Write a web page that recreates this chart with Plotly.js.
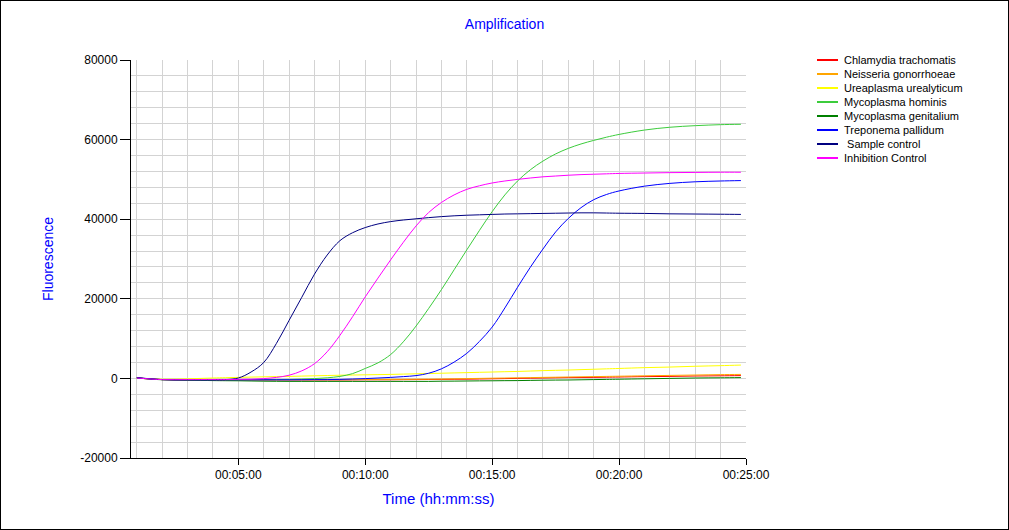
<!DOCTYPE html>
<html>
<head>
<meta charset="utf-8">
<script src="https://cdn.plot.ly/plotly-3.0.1.min.js"></script>
<style>
html, body { margin: 0; padding: 0; background: #fff; }
#chart { width: 1007px; height: 528px; border: 1px solid #000; }
</style>
</head>
<body>
<div id="chart"></div>
<script>
// Time in minutes
const timeMin = [1,2,3,4,4.5,5,5.5,6,6.5,7,7.5,8,8.5,9,9.5,10,10.5,11,11.5,12,12.5,13,13.5,14,14.5,15,15.5,16,16.5,17,17.5,18,18.5,19,19.5,20,21,22,23,24,24.8];

const seriesNames = [
  "Chlamydia trachomatis",
  "Neisseria gonorrhoeae",
  "Ureaplasma urealyticum",
  "Mycoplasma hominis",
  "Mycoplasma genitalium",
  "Treponema pallidum",
  "\u00a0Sample control",
  "Inhibition Control"
];
const seriesColors = ["#ff0000","#ffa500","#ffff00","#3ccc3c","#008000","#0000ff","#000080","#ff00ff"];

const chlamydia   = [100,-300,-400,-400,-400,-400,-400,-400,-400,-400,-400,-400,-400,-400,-380,-350,-350,-350,-320,-300,-280,-250,-220,-200,-150,-100,-50,0,50,100,150,200,220,250,300,350,450,500,600,650,700];
const neisseria   = [100,-300,-350,-350,-330,-300,-300,-300,-300,-300,-300,-300,-300,-300,-300,-250,-250,-250,-220,-200,-180,-150,-100,-50,0,50,100,150,200,250,300,350,400,450,500,550,650,750,850,950,1000];
const ureaplasma  = [100,-200,-100,100,180,250,330,400,450,500,580,650,720,800,850,900,950,1000,1080,1150,1230,1300,1380,1450,1530,1600,1680,1750,1850,1950,2030,2100,2200,2300,2400,2500,2700,2850,3050,3200,3350];
const mhominis    = [100,-300,-350,-350,-350,-350,-350,-300,-300,-250,-150,-50,150,500,1200,2500,3900,6000,9200,13150,17600,22300,27300,32300,37200,41900,46100,49600,52400,54600,56400,57800,58900,59800,60600,61300,62400,63100,63500,63750,63850];
const mgenitalium = [100,-350,-450,-550,-580,-600,-650,-700,-730,-750,-750,-750,-750,-750,-750,-750,-750,-750,-750,-750,-750,-700,-680,-650,-620,-600,-570,-550,-500,-450,-420,-400,-350,-300,-250,-200,-100,0,100,150,200];
const treponema   = [150,-300,-350,-350,-350,-350,-350,-350,-350,-350,-330,-300,-300,-250,-150,-50,100,250,450,700,1300,2400,4100,6300,9300,12900,17700,22900,27900,32500,36800,40200,42900,44900,46200,47100,48300,49000,49400,49600,49700];
const sampleCtrl  = [200,-300,-350,-350,-300,100,1600,4000,8800,14600,20400,26200,31000,34600,36600,37900,38800,39400,39800,40100,40400,40650,40850,41000,41100,41200,41300,41350,41400,41450,41500,41550,41600,41600,41550,41500,41450,41350,41300,41250,41200];
const inhibition  = [100,-300,-300,-300,-300,-250,-200,-50,250,800,1900,3700,6700,10800,15500,20500,25200,29800,34200,38300,41700,44200,46100,47500,48400,49100,49600,50000,50350,50650,50850,51050,51200,51300,51400,51500,51600,51700,51750,51800,51800];

const seriesValues = [chlamydia, neisseria, ureaplasma, mhominis, mgenitalium, treponema, sampleCtrl, inhibition];

const xTickVals = [5,10,15,20,25];
const xTickText = ["00:05:00","00:10:00","00:15:00","00:20:00","00:25:00"];
const yTickVals = [-20000,0,20000,40000,60000,80000];
const yTickText = ["-20000","0","20000","40000","60000","80000"];

const traces = seriesValues.map((vals, i) => ({
  type: "scatter",
  mode: "lines",
  x: timeMin,
  y: vals,
  name: seriesNames[i],
  line: { color: seriesColors[i], width: 1, shape: "spline", smoothing: 1 },
  showlegend: false,
  hoverinfo: "skip"
}));

// Manual compact legend
const W = 1007, H = 528;
const M = { l: 130, r: 262, t: 59, b: 71 };
const pw = W - M.l - M.r, ph = H - M.t - M.b;
const px2x = p => (p - M.l) / pw;
const px2y = p => 1 - (p - M.t) / ph;

const shapes = [];
const annotations = [];
seriesNames.forEach((nm, i) => {
  const yc = 59 + 14 * i;
  shapes.push({
    type: "line", xref: "paper", yref: "paper",
    x0: px2x(816), x1: px2x(837), y0: px2y(yc), y1: px2y(yc),
    line: { color: seriesColors[i], width: 2 }
  });
  annotations.push({
    xref: "paper", yref: "paper", x: px2x(841), y: px2y(yc),
    xanchor: "left", yanchor: "middle", showarrow: false,
    text: nm, font: { family: "Liberation Sans, Arial, sans-serif", size: 11, color: "#000" }
  });
});

const layout = {
  width: W, height: H,
  margin: M,
  paper_bgcolor: "#fff", plot_bgcolor: "#fff",
  font: { family: "Liberation Sans, Arial, sans-serif", size: 12, color: "#000" },
  title: { text: "Amplification", font: { size: 14, color: "#0000ff" }, x: 0.5, xanchor: "center", y: 1 - 23/H, yanchor: "middle" },
  xaxis: {
    range: [0.77, 25],
    tickmode: "array", tickvals: xTickVals, ticktext: xTickText,
    ticks: "outside", ticklen: 6, tickcolor: "#000", tickwidth: 1,
    showline: true, linecolor: "#000", linewidth: 1,
    showgrid: true, gridcolor: "#d3d3d3", gridwidth: 1,
    zeroline: false,
    minor: { tickmode: "linear", tick0: 0, dtick: 1, showgrid: true, gridcolor: "#d3d3d3", gridwidth: 1, ticklen: 0 },
    title: { text: "Time (hh:mm:ss)", font: { size: 15, color: "#0000ff" }, standoff: 12 },
    tickfont: { size: 12, color: "#000" }
  },
  yaxis: {
    range: [-20000, 80000],
    tickmode: "array", tickvals: yTickVals, ticktext: yTickText,
    ticks: "outside", ticklen: 10, tickcolor: "#000", tickwidth: 1,
    showline: true, linecolor: "#000", linewidth: 1,
    showgrid: true, gridcolor: "#d3d3d3", gridwidth: 1,
    zeroline: false,
    minor: { tickmode: "linear", tick0: 0, dtick: 4000, showgrid: true, gridcolor: "#d3d3d3", gridwidth: 1, ticklen: 0 },
    title: { text: "Fluorescence", font: { size: 14, color: "#0000ff" }, standoff: 23 },
    tickfont: { size: 12, color: "#000" }
  },
  shapes: shapes,
  annotations: annotations,
  showlegend: false
};

Plotly.newPlot("chart", traces, layout, { displayModeBar: false, staticPlot: true });
</script>
</body>
</html>
